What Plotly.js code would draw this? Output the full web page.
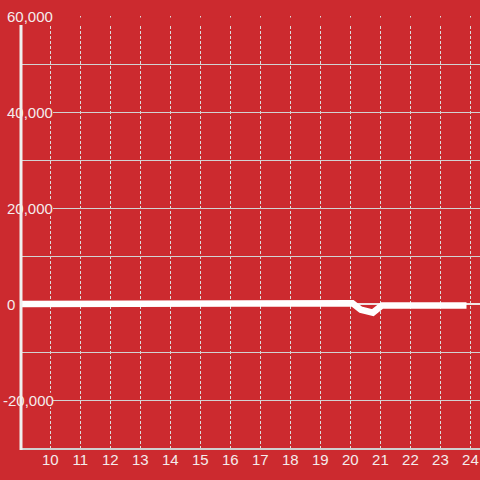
<!DOCTYPE html>
<html>
<head>
<meta charset="utf-8">
<script src="https://cdn.plot.ly/plotly-3.0.1.min.js"></script>
<style>html,body{margin:0;padding:0;background:#cc2a2f;}#chart{width:480px;height:480px;}</style>
</head>
<body>
<div id="chart"></div>
<script>
// Data
const hours = [8.88, 15.5, 15.9, 20.07, 20.35, 20.75, 21.05, 23.87];
const values = [0, 0, 150, 150, -1200, -1800, -300, -300];
const xTickVals = [10, 11, 12, 13, 14, 15, 16, 17, 18, 19, 20, 21, 22, 23, 24];
const yLabelVals = [60000, 40000, 20000, 0, -20000];
const yLabelText = ['60,000', '40,000', '20,000', '0', '-20,000'];

const BG = '#cc2a2f';
const W = 480, H = 480, ML = 20, MR = 0, MT = 16, MB = 32;
const PW = W - ML - MR, PH = H - MT - MB;
const px2paperX = p => (p - ML) / PW;
const px2paperY = p => (H - MB - p) / PH;

const annotations = yLabelVals.map((v, i) => ({
  xref: 'paper', yref: 'y', x: px2paperX(5), y: v,
  xanchor: 'left', yanchor: 'middle', showarrow: false,
  xshift: v < 0 ? -4 : 0,
  text: yLabelText[i],
  font: {family: 'Liberation Sans, Arial, sans-serif', size: 15, color: '#f4ecec'}
}));

const shapes = [];
// mask gridlines behind labels
yLabelVals.filter(v => v !== 0).forEach(v => {
  shapes.push({type: 'rect', layer: 'above', xref: 'paper', yref: 'y',
    x0: 0, x1: px2paperX(53), y0: v - 1500, y1: v + 1500,
    line: {width: 0, color: 'rgba(0,0,0,0)'}, fillcolor: BG, opacity: 1});
});
// mask tops of vertical dotted gridlines
shapes.push({type: 'rect', layer: 'above', xref: 'paper', yref: 'paper',
  x0: 0, x1: 1, y0: px2paperY(24), y1: px2paperY(17.5),
  line: {width: 0, color: 'rgba(0,0,0,0)'}, fillcolor: BG, opacity: 1});
// y axis line
shapes.push({type: 'line', layer: 'above', xref: 'paper', yref: 'paper',
  x0: px2paperX(21), x1: px2paperX(21), y0: px2paperY(25), y1: px2paperY(450),
  line: {color: '#efefef', width: 3}});

const trace = {
  x: hours, y: values, type: 'scatter', mode: 'lines',
  line: {color: '#ffffff', width: 6.5},
  cliponaxis: false, hoverinfo: 'skip'
};

const layout = {
  width: W, height: H,
  margin: {l: ML, r: MR, t: MT, b: MB, pad: 0},
  paper_bgcolor: BG, plot_bgcolor: BG,
  showlegend: false,
  font: {family: 'Liberation Sans, Arial, sans-serif', size: 15, color: '#f4ecec'},
  xaxis: {
    range: [8.99, 24.32], tickvals: xTickVals, ticktext: xTickVals.map(String),
    showgrid: true, gridcolor: '#dcdcdc', gridwidth: 1, griddash: '3px,2px',
    zeroline: false, showline: true, linecolor: '#cfcfcf', linewidth: 2,
    ticks: '', ticklabelstandoff: -3, tickfont: {size: 15, color: '#f4ecec'}, fixedrange: true
  },
  yaxis: {
    range: [-30000, 60000], dtick: 10000, tick0: 0,
    showgrid: true, gridcolor: '#d2d2d2', gridwidth: 1,
    zeroline: true, zerolinecolor: '#f0e4e4', zerolinewidth: 2,
    showline: false, showticklabels: false, ticks: '', fixedrange: true
  },
  shapes: shapes,
  annotations: annotations
};

Plotly.newPlot('chart', [trace], layout, {staticPlot: true, displayModeBar: false});
</script>
</body>
</html>
